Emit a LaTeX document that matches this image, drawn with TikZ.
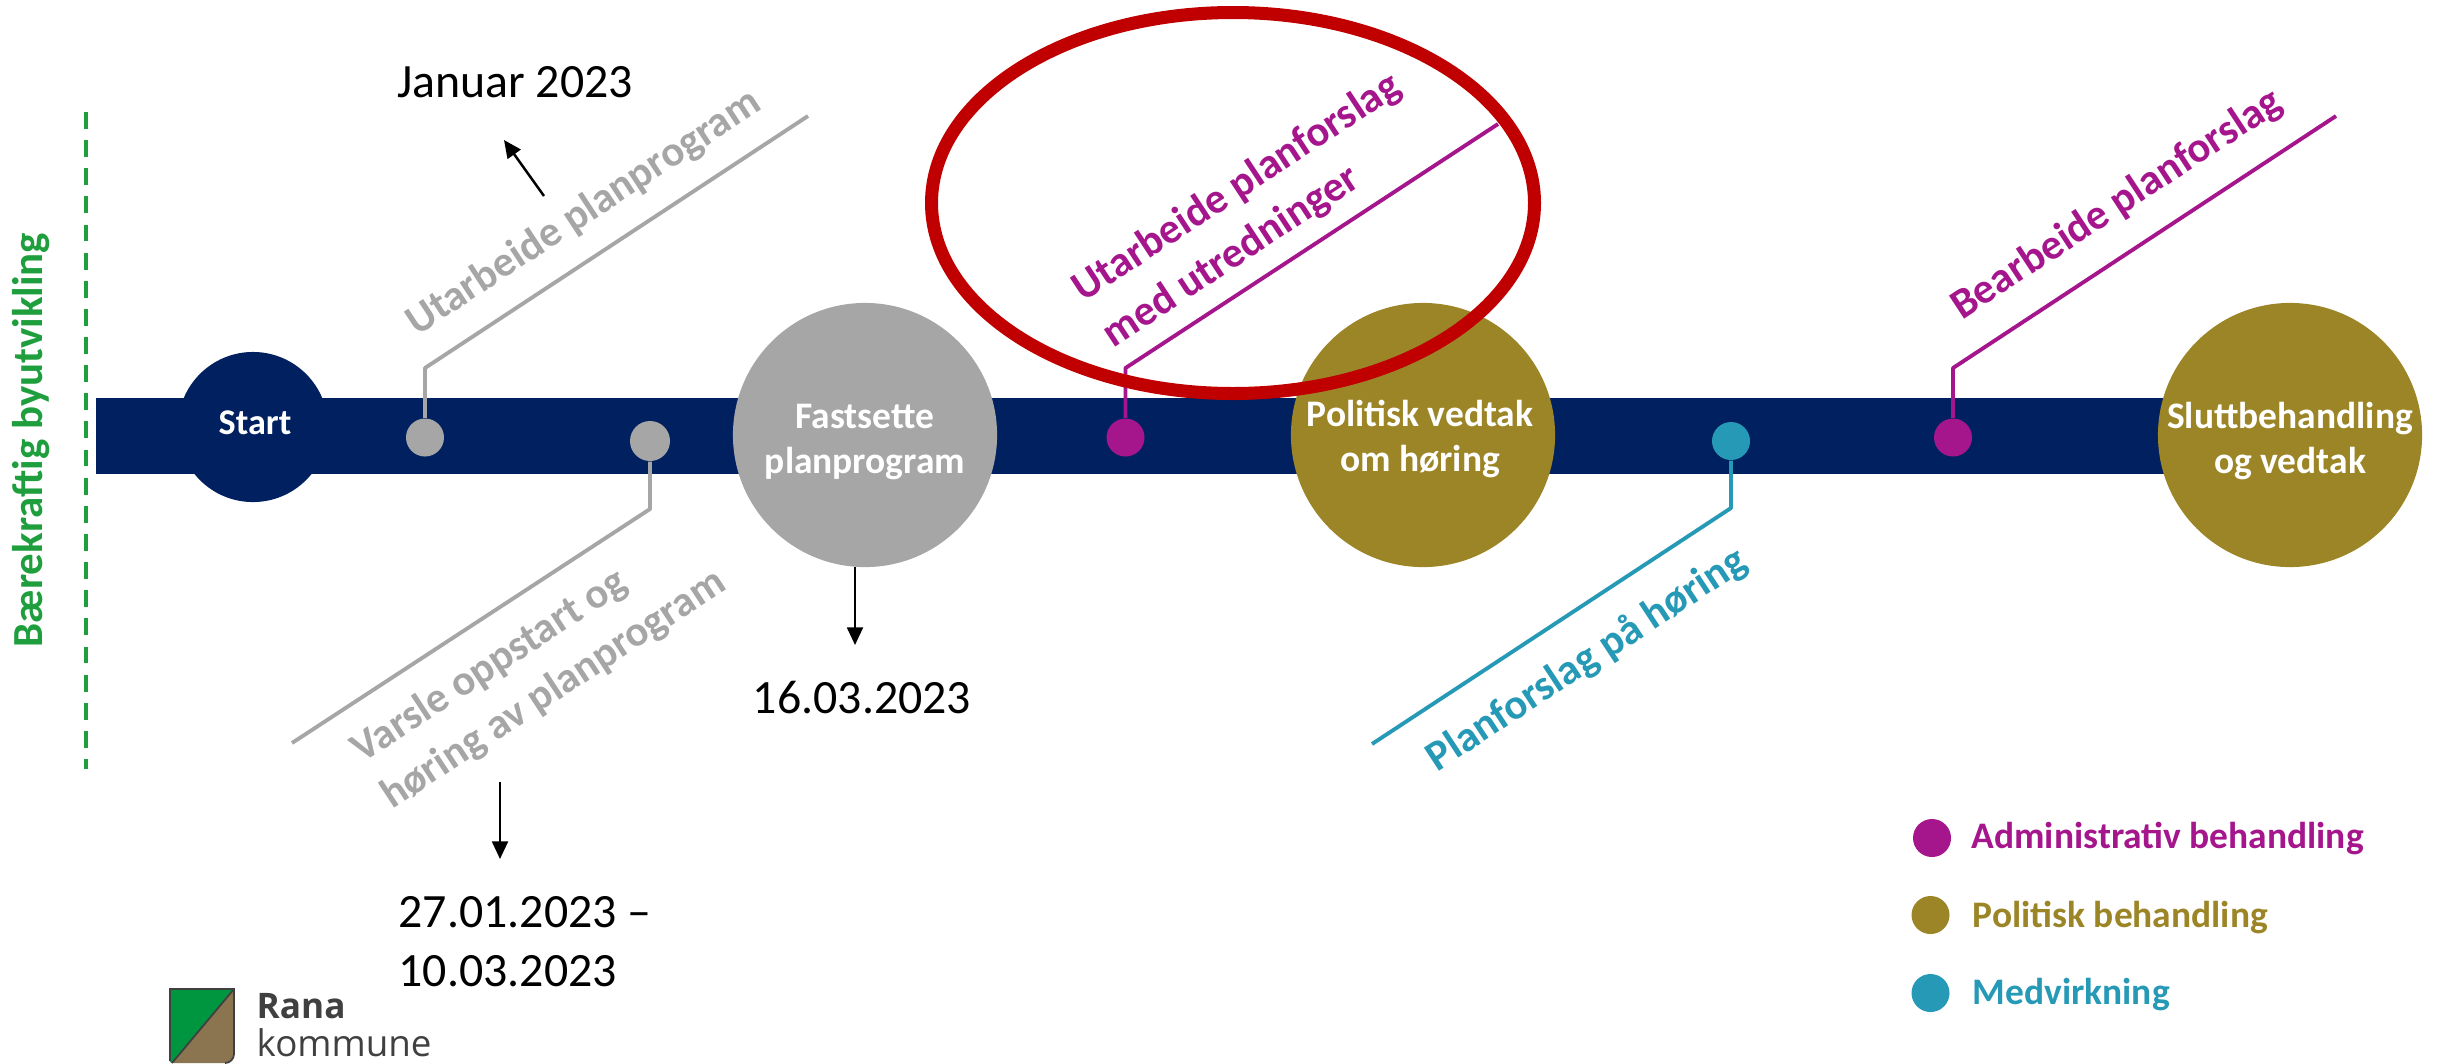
\documentclass[tikz,border=0pt]{standalone}
\usepackage{fontspec}
\setmainfont{Carlito}
\newfontfamily\logofont{Open Sans}
\usetikzlibrary{arrows.meta}
\definecolor{navy}{HTML}{002060}
\definecolor{grayc}{HTML}{A6A6A6}
\definecolor{olive}{HTML}{9C8526}
\definecolor{magc}{HTML}{A5158C}
\definecolor{tealc}{HTML}{2599B5}
\definecolor{greenc}{HTML}{1F9E3E}
\definecolor{redc}{HTML}{C00000}
\definecolor{logogreen}{HTML}{00963F}
\definecolor{logobrown}{HTML}{8B7550}
\definecolor{logogray}{HTML}{404040}
\tikzset{
  big/.style={circle,fill=#1,draw=none,minimum size=2.64cm,inner sep=0pt},
  bigtext/.style={text=white,align=center,inner sep=0pt,font=\fontsize{10.65}{12.8}\selectfont\bfseries},
  dot/.style={circle,fill=#1,draw=none,minimum size=0.38cm,inner sep=0pt},
  lead/.style={draw=#1,line width=1.1pt,line join=round},
  slant/.style={text=#1,rotate=33.3,align=left,inner sep=0pt,
    font=\fontsize{12.1}{15.5}\selectfont\bfseries},
  date/.style={font=\fontsize{13.6}{16.8}\selectfont,inner sep=0pt,text=black},
  legend/.style={text=#1,anchor=west,inner sep=0pt,font=\fontsize{10.65}{12.5}\selectfont\bfseries},
  arr/.style={draw=black,line width=0.7pt,-{Triangle[length=5pt,width=4.5pt]}},
}
\begin{document}
\begin{tikzpicture}[x=0.01cm,y=-0.01cm]
\useasboundingbox (0,0) rectangle (2437,1063);
% band
\node[fill=navy,draw=none,minimum width=21cm,minimum height=0.765cm,inner sep=0pt,anchor=west] (band) at (95,436) {};
% milestones
\node[big=navy,minimum size=1.5cm] (start) at (253,427) {};
\node[bigtext,font=\fontsize{10.3}{12.5}\selectfont\bfseries] (starttxt) at (255,423) {Start};
\node[big=grayc] (fast) at (865,435) {};
\node[big=olive] (pol) at (1423,435) {};
\node[big=olive] (slutt) at (2290,435) {};
\node[bigtext] (fasttxt) at (865,442) {Fastsette\\planprogram};
\node[bigtext] (poltxt) at (1420,439) {Politisk vedtak\\om høring};
\node[bigtext] (sluttxt) at (2290,441) {Sluttbehandling\\og vedtak};
% dots
\node[dot=grayc] (d1) at (425,437.5) {};
\node[dot=grayc,minimum size=0.4cm] (d2) at (650,441) {};
\node[dot=magc] (d3) at (1125.5,437.5) {};
\node[dot=tealc] (d4) at (1731,441) {};
\node[dot=magc] (d5) at (1953,437.5) {};
% leader lines
\coordinate (b1) at (425,368); \coordinate (e1) at (808,116);
\coordinate (b2) at (650,509); \coordinate (e2) at (292,743);
\coordinate (b3) at (1125.5,368); \coordinate (e3) at (1498,124);
\coordinate (b4) at (1731,508); \coordinate (e4) at (1372,744);
\coordinate (b5) at (1953,368); \coordinate (e5) at (2336,116);
\draw[lead=grayc] (d1.north) -- (b1) -- (e1);
\draw[lead=grayc] (d2.south) -- (b2) -- (e2);
\draw[lead=magc] (d3.north) -- (b3) -- (e3);
\draw[lead=tealc] (d4.south) -- (b4) -- (e4);
\draw[lead=magc] (d5.north) -- (b5) -- (e5);
% red ellipse
\draw[redc,line width=3.7pt] (1233,203) ellipse [x radius=301.5,y radius=190.5];
% slanted labels
\node[slant=grayc] (l1) at (584,213) {Utarbeide planprogram};
\node[slant=grayc] (l2) at (539,667) {Varsle oppstart og\\høring av planprogram};
\node[slant=magc] (l3) at (1252,211) {Utarbeide planforslag\\med utredninger};
\node[slant=magc] (l4) at (2117,205) {Bearbeide planforslag};
\node[slant=tealc] (l5) at (1587,660) {Planforslag på høring};
% green dashed boundary
\coordinate (g1) at (86,112); \coordinate (g2) at (86,769);
\draw[greenc,line width=1.1pt,dash pattern=on 4.8pt off 3.2pt] (g1) -- (g2);
\node[rotate=90,text=greenc,inner sep=0pt,font=\fontsize{12.2}{15}\selectfont\bfseries] (side) at (31,440) {Bærekraftig byutvikling};
% dates
\node[date] (t1) at (515,82) {Januar 2023};
\node[date] (t2) at (862,698) {16.03.2023};
\node[date,align=left,anchor=north west] (t3) at (398,896) {27.01.2023 –\\10.03.2023};
\coordinate (a1) at (544,196); \coordinate (a2) at (504,140);
\coordinate (a3) at (855,567); \coordinate (a4) at (855,645);
\coordinate (a5) at (500,782); \coordinate (a6) at (500,859);
\draw[arr] (a1) -- (a2);
\draw[arr] (a3) -- (a4);
\draw[arr] (a5) -- (a6);
% legend
\node[dot=magc] (k1) at (1932,838) {};
\node[dot=olive] (k2) at (1930.5,915) {};
\node[dot=tealc] (k3) at (1930.5,993) {};
\node[legend=magc] (kt1) at (1971,838) {Administrativ behandling};
\node[legend=olive] (kt2) at (1972,917) {Politisk behandling};
\node[legend=tealc] (kt3) at (1972,995) {Medvirkning};
% logo
\path[fill=logobrown] (172,1063) -- (234,989) -- (234,1054) arc[start angle=0,end angle=90,radius=9] -- cycle;
\path[fill=logogreen] (170,989) -- (234,989) -- (172,1063) arc[start angle=90,end angle=180,radius=2] -- cycle;
\draw[logogray,line width=0.5pt] (225,1063) arc[start angle=90,end angle=0,radius=9] -- (234,989) -- (170,989) -- (170,1061);
\draw[logogray,line width=0.5pt] (172,1063) -- (234,989);
\node[anchor=base west,inner sep=0pt,text=logogray,font=\logofont\fontsize{10}{12}\selectfont\bfseries] (rana) at (256,1018) {Rana};
\node[anchor=base west,inner sep=0pt,text=logogray,font=\logofont\fontsize{10.45}{12}\selectfont] (komm) at (256,1056) {kommune};
\end{tikzpicture}
\end{document}
